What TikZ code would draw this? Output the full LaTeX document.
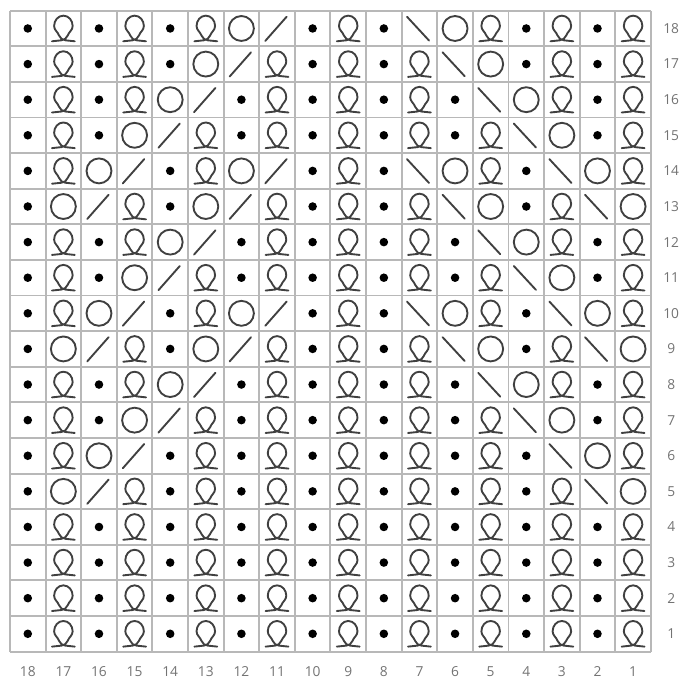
\documentclass[tikz,border=0pt]{standalone}
\usepackage{fontspec}
\setsansfont{Open Sans}

\begin{document}
\begin{tikzpicture}[
    x=1cm, y=1cm,
    gridline/.style={draw=black!28, line width=1.5pt},
    stitch/.style={draw=black!75, line width=1.5pt, line cap=round},
    purl/.style={fill=black},
    numlabel/.style={font=\sffamily\fontsize{11}{13}\selectfont, text=black!55, inner sep=1pt},
]
\useasboundingbox (-0.28,-0.82) rectangle (18.93,18.30);

% Chart grid
\draw[gridline] (0,0) grid (18,18);

% Symbols, left to right: 0 purl, 1 twisted knit, 2 yarn over, 3 k2tog, 4 ssk
\foreach \r/\row in {
    18/{0,1,0,1,0,1,2,3,0,1,0,4,2,1,0,1,0,1},
    17/{0,1,0,1,0,2,3,1,0,1,0,1,4,2,0,1,0,1},
    16/{0,1,0,1,2,3,0,1,0,1,0,1,0,4,2,1,0,1},
    15/{0,1,0,2,3,1,0,1,0,1,0,1,0,1,4,2,0,1},
    14/{0,1,2,3,0,1,2,3,0,1,0,4,2,1,0,4,2,1},
    13/{0,2,3,1,0,2,3,1,0,1,0,1,4,2,0,1,4,2},
    12/{0,1,0,1,2,3,0,1,0,1,0,1,0,4,2,1,0,1},
    11/{0,1,0,2,3,1,0,1,0,1,0,1,0,1,4,2,0,1},
    10/{0,1,2,3,0,1,2,3,0,1,0,4,2,1,0,4,2,1},
    9/{0,2,3,1,0,2,3,1,0,1,0,1,4,2,0,1,4,2},
    8/{0,1,0,1,2,3,0,1,0,1,0,1,0,4,2,1,0,1},
    7/{0,1,0,2,3,1,0,1,0,1,0,1,0,1,4,2,0,1},
    6/{0,1,2,3,0,1,0,1,0,1,0,1,0,1,0,4,2,1},
    5/{0,2,3,1,0,1,0,1,0,1,0,1,0,1,0,1,4,2},
    4/{0,1,0,1,0,1,0,1,0,1,0,1,0,1,0,1,0,1},
    3/{0,1,0,1,0,1,0,1,0,1,0,1,0,1,0,1,0,1},
    2/{0,1,0,1,0,1,0,1,0,1,0,1,0,1,0,1,0,1},
    1/{0,1,0,1,0,1,0,1,0,1,0,1,0,1,0,1,0,1}} {
    \foreach \s [count=\i] in \row {
        \begin{scope}[shift={(\i-1,\r-1)}]
        \ifcase\s
            \fill[purl] (0.5,0.5) circle (0.12);
        \or
            \draw[stitch] (0.18,0.14) to[out=10,in=250] (0.62,0.3)
                to[out=70,in=270] (0.76,0.57) to[out=90,in=0] (0.5,0.86)
                to[out=180,in=90] (0.24,0.57) to[out=270,in=110] (0.38,0.3)
                to[out=290,in=170] (0.82,0.14);
        \or
            \draw[stitch] (0.5,0.5) circle (0.35);
        \or
            \draw[stitch] (0.17,0.15) -- (0.77,0.83);
        \or
            \draw[stitch] (0.15,0.83) -- (0.77,0.16);
        \fi
        \end{scope}
    }
}

% Row numbers (right) and stitch numbers (bottom)
\foreach \r in {1,...,18} {
    \node[numlabel] (row\r) at (18.57, \r-0.5) {\r};
}
\foreach \c in {1,...,18} {
    \node[numlabel] (col\c) at (18.5-\c, -0.56) {\c};
}
\end{tikzpicture}
\end{document}
